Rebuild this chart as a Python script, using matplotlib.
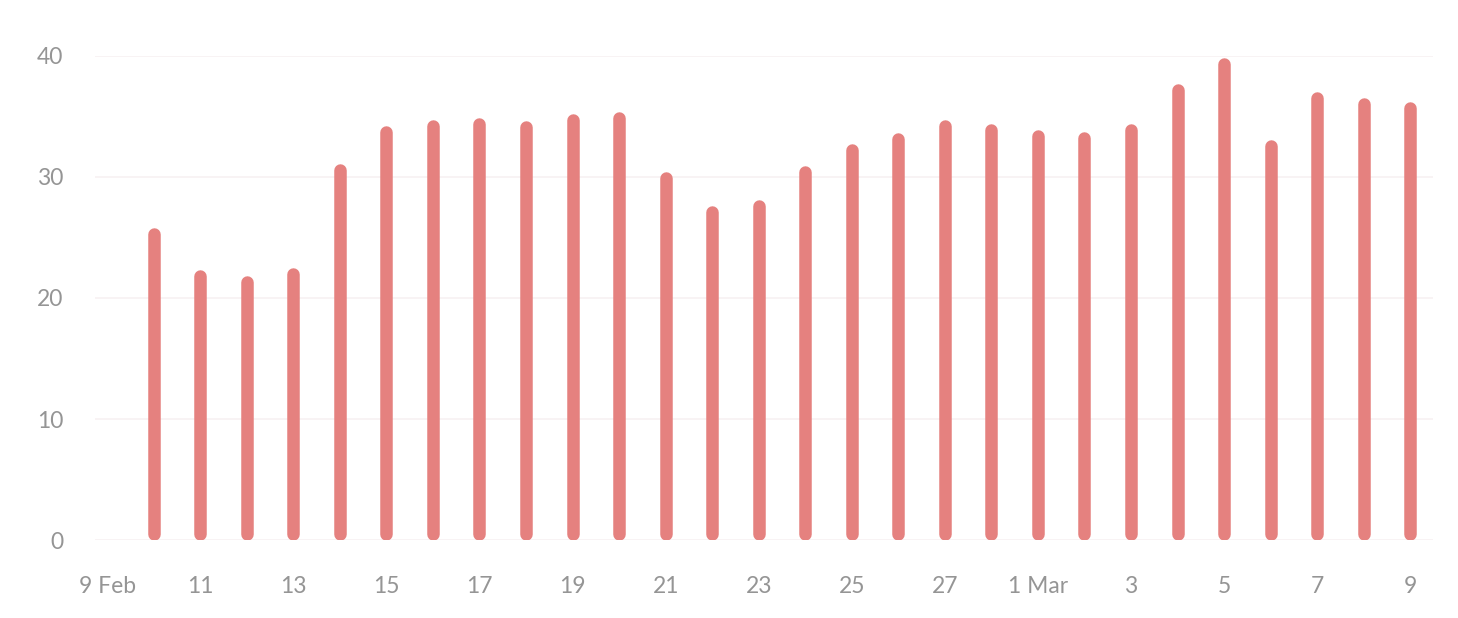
import matplotlib
matplotlib.use("Agg")
import matplotlib.pyplot as plt

plt.rcParams['font.family'] = ['Lato', 'DejaVu Sans']

# days since 9 Feb
day_index = list(range(1, 29))
values = [25.8, 22.3, 21.8, 22.5, 31.1, 34.2, 34.7, 34.9, 34.6, 35.2, 35.4,
          30.4, 27.6, 28.1, 30.9, 32.7, 33.6, 34.7, 34.4, 33.9, 33.7, 34.4,
          37.7, 39.8, 33.1, 37.0, 36.5, 36.2]
tick_pos = list(range(0, 29, 2))
tick_labels = ["9 Feb", "11", "13", "15", "17", "19", "21", "23", "25", "27",
               "1 Mar", "3", "5", "7", "9"]
y_ticks = [0, 10, 20, 30, 40]

bar_color = "#E5817F"
text_color = "#959595"
grid_color = "#F7F1F2"

fig = plt.figure(figsize=(14.58, 6.18), dpi=100)
ax = fig.add_axes([0.0652, 0.1262, 0.9177, 0.7832])

# rounded bars: thick lines with round caps, inset by the cap radius
cap = 0.5
ax.vlines(day_index, [cap] * len(values), [v - cap for v in values],
          colors=bar_color, linewidth=9, capstyle='round', zorder=3)

ax.set_xlim(-0.26, 28.49)
ax.set_ylim(0, 40)
ax.set_yticks(y_ticks)
ax.set_xticks(tick_pos)
ax.set_xticklabels(tick_labels)
ax.grid(axis='y', color=grid_color, linewidth=1.2, zorder=0)
ax.set_axisbelow(True)
for s in ax.spines.values():
    s.set_visible(False)
ax.tick_params(axis='both', length=0, labelsize=16.5, colors=text_color)
ax.tick_params(axis='y', pad=23)
ax.tick_params(axis='x', pad=26)

fig.savefig("out.png", dpi=100, facecolor="white")
